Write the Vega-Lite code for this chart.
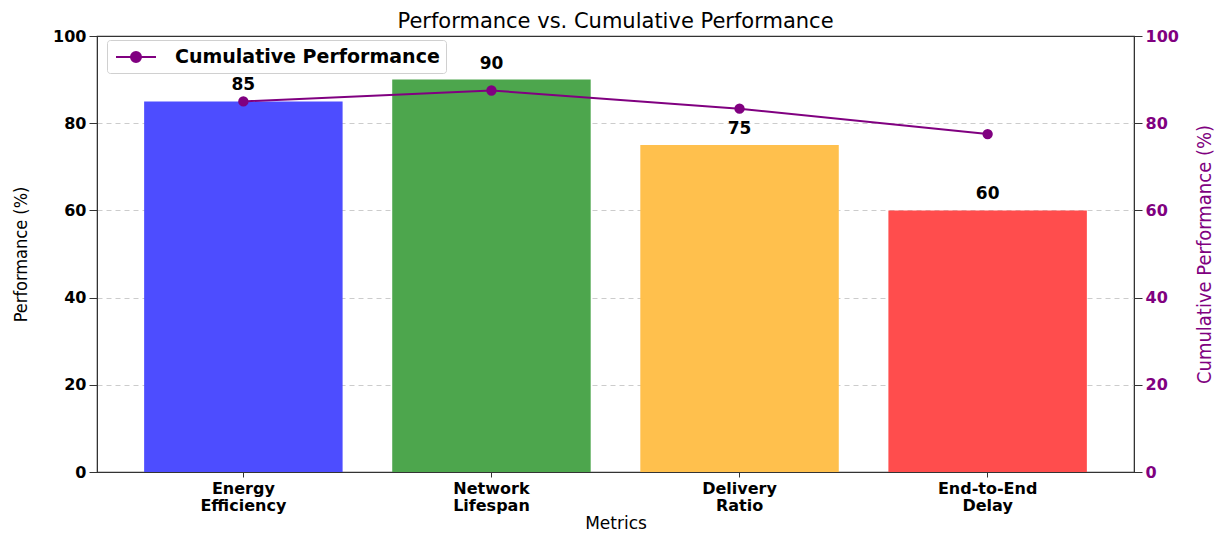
{
  "$schema": "https://vega.github.io/schema/vega-lite/v6.json",
  "width": 1037,
  "height": 436,
  "autosize": "none",
  "padding": {"left": 97, "top": 36, "right": 89, "bottom": 61},
  "background": "white",
  "config": {
    "view": {"stroke": "#333", "strokeWidth": 1.2},
    "font": "DejaVu Sans",
    "axis": {"domainColor": "#333", "tickColor": "#333", "labelFont": "DejaVu Sans", "titleFont": "DejaVu Sans"}
  },
  "title": {"text": "Performance vs. Cumulative Performance", "fontSize": 21, "fontWeight": "normal", "font": "DejaVu Sans", "color": "#000", "offset": 0, "dy": 4, "anchor": "middle"},
  "data": {"values": [
    {"metric": "Energy Efficiency", "value": 85, "cum": 85, "color": "#4d4dff"},
    {"metric": "Network Lifespan", "value": 90, "cum": 87.5, "color": "#4da64d"},
    {"metric": "Delivery Ratio", "value": 75, "cum": 83.333, "color": "#ffc04d"},
    {"metric": "End-to-End Delay", "value": 60, "cum": 77.5, "color": "#ff4d4d"}
  ]},
  "encoding": {
    "x": {"field": "metric", "type": "nominal", "sort": null,
      "scale": {"paddingInner": 0.2, "paddingOuter": 0.19},
      "axis": {"title": "Metrics", "titleFontSize": 17, "titleFontWeight": "normal", "titleColor": "#000", "titlePadding": 2,
        "labelAngle": 0, "labelFontSize": 16, "labelFontWeight": "bold", "labelColor": "#000",
        "labelExpr": "split(datum.label, ' ')", "labelLineHeight": 17, "tickSize": 5, "labelPadding": 3, "grid": false}}
  },
  "layer": [
    {
      "layer": [
        {"mark": {"type": "bar"},
         "encoding": {
           "y": {"field": "value", "type": "quantitative", "scale": {"domain": [0, 100], "nice": false},
             "axis": {"title": "Performance (%)", "titleFont": "DejaVu Sans Condensed", "titleFontSize": 18, "titleFontWeight": "normal", "titleColor": "#000", "titlePadding": 22,
               "values": [0, 20, 40, 60, 80, 100], "labelFontSize": 16, "labelFontWeight": "bold", "labelColor": "#000",
               "tickSize": 8, "labelPadding": 3,
               "grid": true, "gridDash": [5, 4], "gridColor": "#cccccc", "gridWidth": 1,
               "gridOpacity": {"condition": {"test": "datum.value == 0 || datum.value == 100", "value": 0}, "value": 1}}},
           "color": {"field": "color", "type": "nominal", "scale": null}
         }},
        {"mark": {"type": "text", "baseline": "bottom", "dy": -7, "fontSize": 17, "fontWeight": "bold", "font": "DejaVu Sans", "color": "#000"},
         "encoding": {
           "y": {"field": "value", "type": "quantitative", "scale": {"domain": [0, 100], "nice": false}},
           "text": {"field": "value", "type": "quantitative"}
         }}
      ]
    },
    {
      "mark": {"type": "line", "color": "#800080", "strokeWidth": 2, "point": {"filled": true, "size": 70, "color": "#800080"}},
      "encoding": {
        "y": {"field": "cum", "type": "quantitative", "scale": {"domain": [0, 100], "nice": false},
          "axis": {"orient": "right", "title": "Cumulative Performance (%)", "titleFont": "DejaVu Sans Condensed", "titleFontSize": 20, "titleFontWeight": "normal", "titleColor": "#800080", "titleAngle": 270, "titlePadding": 36,
            "values": [0, 20, 40, 60, 80, 100], "labelFontSize": 16, "labelFontWeight": "bold", "labelColor": "#800080",
            "tickSize": 8, "labelPadding": 3, "grid": false}},
        "stroke": {"datum": "Cumulative Performance", "type": "nominal", "scale": {"range": ["#800080"]},
          "legend": {"title": null, "orient": "none", "legendX": 10, "legendY": 4,
            "symbolType": "M -2 0 L 2 0 M 0.5 0 A 0.5 0.5 0 1 1 -0.5 0 A 0.5 0.5 0 1 1 0.5 0 Z",
            "symbolSize": 400, "symbolStrokeWidth": 2, "symbolFillColor": "#800080", "symbolStrokeColor": "#800080", "symbolOffset": 12,
            "labelFontSize": 19, "labelFontWeight": "bold", "labelColor": "#000", "labelFont": "DejaVu Sans", "labelLimit": 0, "labelOffset": 28,
            "strokeColor": "#d0d0d0", "fillColor": "white", "cornerRadius": 3, "padding": 6}}
      }
    }
  ],
  "resolve": {"scale": {"y": "independent", "stroke": "independent"}}
}
